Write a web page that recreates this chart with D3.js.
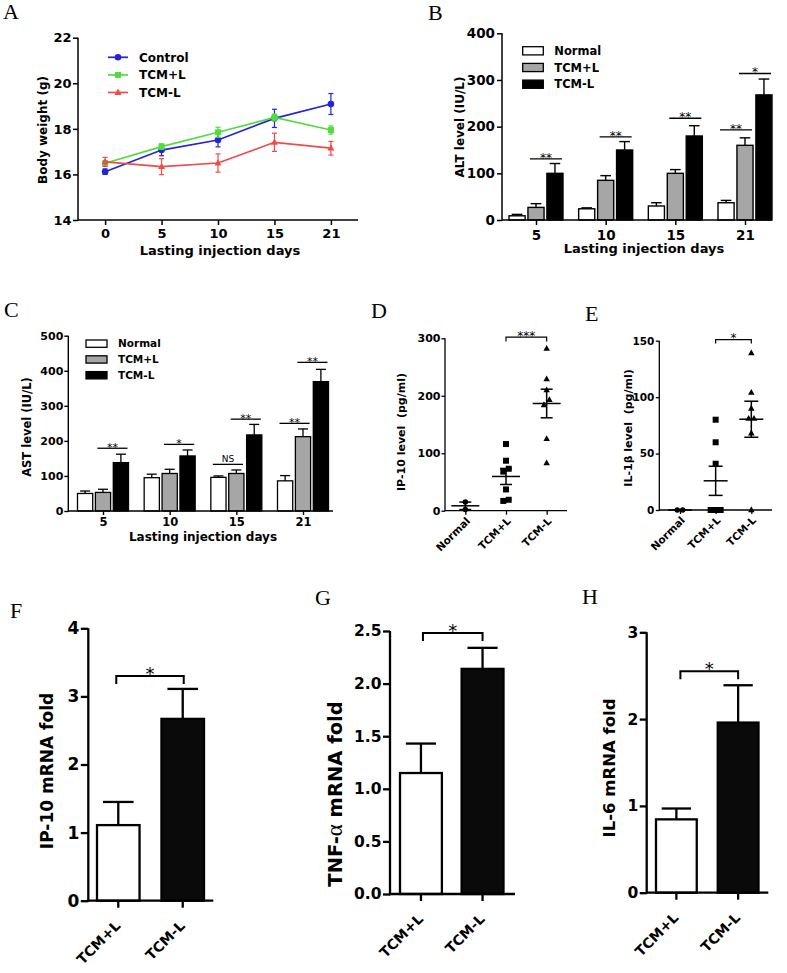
<!DOCTYPE html>
<html>
<head>
<meta charset="utf-8">
<script src="https://cdn.jsdelivr.net/npm/d3@7"></script>
<style>
  body { margin: 0; background: #fff; }
  svg { display: block; }
</style>
</head>
<body>
<svg id="fig" width="787" height="973"></svg>
<script>
// ---- A: body weight ----
const daysA = ['0', '5', '10', '15', '21'];
const weightTicks = [14, 16, 18, 20, 22];
const weightControl = [16.12, 17.07, 17.51, 18.46, 19.09];
const weightControlErr = [0.12, 0.25, 0.3, 0.4, 0.46];
const weightTcmPlus = [16.49, 17.22, 17.85, 18.5, 17.95];
const weightTcmPlusErr = [0.12, 0.12, 0.22, 0.15, 0.18];
const weightTcmMinus = [16.55, 16.34, 16.5, 17.41, 17.15];
const weightTcmMinusErr = [0.2, 0.35, 0.4, 0.4, 0.3];
const namesA = ['Control', 'TCM+L', 'TCM-L'];

// ---- B / C: ALT and AST ----
const daysB = ['5', '10', '15', '21'];
const groupNames = ['Normal', 'TCM+L', 'TCM-L'];
const altTicks = [0, 100, 200, 300, 400];
const altNormal = [9, 24, 30, 37];
const altNormalErr = [3, 2, 7, 5];
const altTcmPlus = [27, 85, 100, 160];
const altTcmPlusErr = [8, 10, 8, 16];
const altTcmMinus = [100, 150, 180, 268];
const altTcmMinusErr = [21, 18, 22, 34];
// [day, from bar, to bar, height, label]
const altSig = [['5', 1, 2, 131, '**'], ['10', 1, 2, 178, '**'], ['15', 1, 2, 218, '**'], ['21', 0, 1, 193, '**'], ['21', 1, 2, 314, '*']];

const astTicks = [0, 100, 200, 300, 400, 500];
const astNormal = [50, 95, 96, 86];
const astNormalErr = [7, 10, 4, 15];
const astTcmPlus = [53, 107, 107, 212];
const astTcmPlusErr = [9, 12, 10, 22];
const astTcmMinus = [138, 157, 217, 369];
const astTcmMinusErr = [24, 17, 30, 35];
const astSig = [['5', 1, 2, 179, '**'], ['10', 1, 2, 190, '*'], ['15', 0, 1, 133, 'NS'], ['15', 1, 2, 262, '**'], ['21', 0, 1, 250, '**'], ['21', 1, 2, 424, '**']];

// ---- D / E: serum cytokines, single animals ----
const dotCats = ['Normal', 'TCM+L', 'TCM-L'];
const ip10Ticks = [0, 100, 200, 300];
const ip10Normal = [2, 15];
const ip10TcmPlus = [116, 87, 73, 68, 37, 17, 19];
const ip10TcmMinus = [282, 229, 210, 193, 184, 125, 83];
const ip10Sig = [302, '***'];
const il1bTicks = [0, 50, 100, 150];
const il1bNormal = [0, 0];
const il1bTcmPlus = [80, 60, 41, 0, 0, 0, 0];
const il1bTcmMinus = [139, 104, 90, 81, 81, 68, 0];
const il1bSig = [151, '*'];

// ---- F / G / H: mRNA fold ----
const foldCats = ['TCM+L', 'TCM-L'];
const ip10Fold = [1.11, 2.67];
const ip10FoldErr = [0.34, 0.44];
const ip10FoldTicks = [0, 1, 2, 3, 4];
const tnfFold = [1.15, 2.14];
const tnfFoldErr = [0.28, 0.2];
const tnfFoldTicks = [0, 0.5, 1, 1.5, 2, 2.5];
const il6Fold = [0.845, 1.96];
const il6FoldErr = [0.125, 0.43];
const il6FoldTicks = [0, 1, 2, 3];

const SANS = '"DejaVu Sans", Verdana, sans-serif';
const SERIF = '"Liberation Serif", "Times New Roman", serif';
const svg = d3.select('#fig');

function drawTxt(g, x, y, txt, size, anchor = 'start', weight = 'bold', family = SANS, fill = '#000') {
  return g.append('text')
    .attr('x', x)
    .attr('y', y)
    .attr('font-size', size)
    .attr('font-family', family)
    .attr('font-weight', weight)
    .attr('fill', fill)
    .attr('text-anchor', anchor)
    .style('white-space', 'pre')
    .text(txt);
}

// rotated axis title, x = baseline
function drawVTxt(g, x, y, txt, size) {
  return drawTxt(g, 0, 0, txt, size, 'middle')
    .attr('transform', `translate(${x},${y}) rotate(-90)`);
}

function drawLine(g, x1, y1, x2, y2, width = 1.5, stroke = '#000') {
  return g.append('line')
    .attr('x1', x1).attr('y1', y1)
    .attr('x2', x2).attr('y2', y2)
    .attr('stroke', stroke)
    .attr('stroke-width', width);
}

function drawMarker(g, shape, x, y, s, fill) {
  if (shape === 'circle') {
    return g.append('circle').attr('cx', x).attr('cy', y).attr('r', s / 2).attr('fill', fill);
  }
  if (shape === 'square') {
    return g.append('rect').attr('x', x - s / 2).attr('y', y - s / 2).attr('width', s).attr('height', s).attr('fill', fill);
  }
  let h = s * 0.9;
  return g.append('path')
    .attr('d', `M${x},${y - h * 0.62}L${x + s / 2},${y + h * 0.38}L${x - s / 2},${y + h * 0.38}Z`)
    .attr('fill', fill);
}

function styleAxis(a, o) {
  a.select('.domain').remove();
  a.selectAll('.tick line').attr('stroke-width', o.w).attr('stroke', '#000');
  a.selectAll('.tick text')
    .attr('font-size', o.size)
    .attr('font-family', SANS)
    .attr('font-weight', 'bold')
    .attr('fill', '#000');
}

function axisLeftAt(g, scale, x, ticks, o) {
  let a = g.append('g')
    .attr('transform', `translate(${x},0)`)
    .call(d3.axisLeft(scale).tickValues(ticks).tickSize(o.tick).tickPadding(o.pad).tickFormat(o.fmt || (d => d)));
  styleAxis(a, o);
  let r = scale.range();
  drawLine(g, x, r[0] + o.w / 2, x, r[1], o.w);
  return a;
}

function axisBottomAt(g, scale, y, x0, x1, o) {
  let a = g.append('g')
    .attr('transform', `translate(0,${y})`)
    .call(d3.axisBottom(scale).tickSize(o.tick).tickPadding(o.pad));
  styleAxis(a, o);
  drawLine(g, x0, y, x1, y, o.w);
  if (o.rot) {
    a.selectAll('.tick text')
      .attr('x', 0).attr('y', 0).attr('dy', 0)
      .attr('text-anchor', 'end')
      .attr('transform', `translate(${o.rot[0]},${o.rot[1]}) rotate(-45)`);
  }
  return a;
}

function drawBracket(g, x1, x2, y, tick, width, label, size, lift) {
  g.append('path')
    .attr('d', `M${x1},${y + tick}V${y}H${x2}V${y + tick}`)
    .attr('fill', 'none')
    .attr('stroke', '#000')
    .attr('stroke-width', width);
  drawTxt(g, (x1 + x2) / 2, y + lift, label, size, 'middle', 'normal');
}

// grouped bar chart with significance lines (B, C)
function groupedBars(g, x, inner, y, series, errs, sig, o) {
  let bw = inner.bandwidth();
  series.forEach((vals, si) => {
    g.selectAll(null).data(vals).enter().append('rect')
      .attr('x', (d, i) => x(daysB[i]) + inner(si))
      .attr('y', d => y(d))
      .attr('width', bw)
      .attr('height', d => y(0) - y(d))
      .attr('fill', o.fills[si])
      .attr('stroke', '#000')
      .attr('stroke-width', o.w);
    vals.forEach((v, i) => {
      let cx = x(daysB[i]) + inner(si) + bw / 2;
      let top = y(v + errs[si][i]);
      drawLine(g, cx, y(v), cx, top, o.w);
      drawLine(g, cx - bw * 0.33, top, cx + bw * 0.33, top, o.w);
    });
  });
  sig.forEach(s => {
    let x1 = x(s[0]) + inner(s[1]) + 2;
    let x2 = x(s[0]) + inner(s[2]) + bw - 1;
    drawLine(g, x1, y(s[3]), x2, y(s[3]), o.w);
    if (s[4] === 'NS') drawTxt(g, (x1 + x2) / 2, y(s[3]) - 2.5, s[4], o.nsSize, 'middle', 'normal');
    else drawTxt(g, (x1 + x2) / 2, y(s[3]) + 3, s[4], o.starSize, 'middle', 'normal');
  });
}

function barLegend(g, x, y0, step, w, h, size, fills) {
  groupNames.forEach((n, i) => {
    g.append('rect')
      .attr('x', x).attr('y', y0 + i * step)
      .attr('width', w).attr('height', h)
      .attr('fill', fills[i]).attr('stroke', '#000').attr('stroke-width', 1.3);
    drawTxt(g, x + w + 11, y0 + i * step + h / 2, n, size).attr('dy', '0.36em');
  });
}

// spread overlapping points sideways
function spread(vals, y, size) {
  let idx = vals.map((v, i) => i).sort((a, b) => vals[a] - vals[b]);
  let offs = vals.map(() => 0);
  let cluster = [idx[0]];
  const flush = () => {
    let n = cluster.length;
    let step = n > 1 ? Math.min(size * 0.9, 10 / (n - 1)) : 0;
    cluster.forEach((k, j) => { offs[k] = (j - (n - 1) / 2) * step; });
  };
  for (let i = 1; i < idx.length; i++) {
    let last = cluster[cluster.length - 1];
    if (Math.abs(y(vals[idx[i]]) - y(vals[last])) < size) cluster.push(idx[i]);
    else { flush(); cluster = [idx[i]]; }
  }
  flush();
  return offs;
}

function dotPlot(g, x, y, groups, o) {
  const shapes = ['circle', 'square', 'triangle'];
  const sizes = [5.5, 6, 6.5];
  groups.forEach((vals, gi) => {
    let cx = x(dotCats[gi]);
    let offs = spread(vals, y, 6);
    vals.forEach((v, i) => drawMarker(g, shapes[gi], cx + offs[i], y(v), sizes[gi], '#000'));
    let m = d3.mean(vals);
    let sem = d3.deviation(vals) / Math.sqrt(vals.length);
    drawLine(g, cx - o.meanHalf, y(m), cx + o.meanHalf, y(m), 1.5);
    drawLine(g, cx, y(m - sem), cx, y(m + sem), 1.5);
    drawLine(g, cx - o.capHalf, y(m - sem), cx + o.capHalf, y(m - sem), 1.5);
    drawLine(g, cx - o.capHalf, y(m + sem), cx + o.capHalf, y(m + sem), 1.5);
  });
}

function foldBars(g, x, y, vals, errs) {
  let bw = x.bandwidth();
  g.selectAll(null).data(vals).enter().append('rect')
    .attr('x', (d, i) => x(foldCats[i]))
    .attr('y', d => y(d))
    .attr('width', bw)
    .attr('height', d => y(0) - y(d))
    .attr('fill', (d, i) => i === 0 ? '#fff' : '#0a0a0a')
    .attr('stroke', '#000')
    .attr('stroke-width', 2.3);
  vals.forEach((v, i) => {
    let cx = x(foldCats[i]) + bw / 2;
    let top = y(v + errs[i]);
    drawLine(g, cx, y(v), cx, top, 2.3);
    drawLine(g, cx - bw * 0.36, top, cx + bw * 0.36, top, 2.3);
  });
}

// ---------- panel letters ----------
[['A', 3, 19], ['B', 428, 20], ['C', 4, 317], ['D', 371, 318], ['E', 585, 321], ['F', 10, 618], ['G', 315, 605], ['H', 582, 604]]
  .forEach(l => drawTxt(svg, l[1], l[2], l[0], 22, 'start', 'normal', SERIF));

// ---------- A ----------
const gA = svg.append('g');
const xA = d3.scalePoint().domain(daysA).range([78, 358]).padding(0.48);
const yA = d3.scaleLinear().domain([14, 22]).range([220, 37.7]);
axisLeftAt(gA, yA, 78, weightTicks, { tick: 5, pad: 1.5, size: 13, w: 1.5 });
axisBottomAt(gA, xA, 220, 78, 358, { tick: 5, pad: 4, size: 13, w: 1.5 });
drawVTxt(gA, 47, 130, 'Body weight (g)', 12);
drawTxt(gA, 220, 255, 'Lasting injection days', 13, 'middle');

const colorsA = ['#2323d8', '#52dc3c', '#ef4b4b'];
const shapesA = ['circle', 'square', 'triangle'];
const sizesA = [6.6, 6, 7];
const seriesA = [[weightControl, weightControlErr], [weightTcmPlus, weightTcmPlusErr], [weightTcmMinus, weightTcmMinusErr]];
const lineA = d3.line().x((d, i) => xA(daysA[i])).y(d => yA(d));
seriesA.forEach((s, si) => {
  gA.append('path').attr('d', lineA(s[0])).attr('fill', 'none').attr('stroke', colorsA[si]).attr('stroke-width', 1.7);
  s[0].forEach((v, i) => {
    let cx = xA(daysA[i]);
    let e = s[1][i];
    drawLine(gA, cx, yA(v - e), cx, yA(v + e), 1.2, colorsA[si]);
    drawLine(gA, cx - 2.5, yA(v + e), cx + 2.5, yA(v + e), 1.2, colorsA[si]);
    drawLine(gA, cx - 2.5, yA(v - e), cx + 2.5, yA(v - e), 1.2, colorsA[si]);
    drawMarker(gA, shapesA[si], cx, yA(v), sizesA[si], colorsA[si]);
  });
});
namesA.forEach((n, i) => {
  let ly = 57.3 + i * 17.6;
  drawLine(gA, 108, ly, 128, ly, 1.7, colorsA[i]);
  drawMarker(gA, shapesA[i], 118, ly, sizesA[i], colorsA[i]);
  drawTxt(gA, 139, ly, n, 12).attr('dy', '0.36em');
});

// ---------- B ----------
const barFills = ['#ffffff', '#a6a6a6', '#000000'];
const gB = svg.append('g');
const xB = d3.scalePoint().domain(daysB).range([536, 745]);
const innerB = d3.scaleBand().domain([0, 1, 2]).range([-27, 27]).paddingInner(0.15);
const yB = d3.scaleLinear().domain([0, 400]).range([220, 33.3]);
groupedBars(gB, xB, innerB, yB, [altNormal, altTcmPlus, altTcmMinus], [altNormalErr, altTcmPlusErr, altTcmMinusErr], altSig,
  { fills: barFills, w: 1.4, starSize: 12, nsSize: 9 });
axisLeftAt(gB, yB, 502, altTicks, { tick: 5, pad: 2, size: 13.5, w: 1.5 });
axisBottomAt(gB, xB, 220, 502, 772, { tick: 5, pad: 5, size: 13.5, w: 1.5 });
drawVTxt(gB, 464, 127, 'ALT level (IU/L)', 12);
drawTxt(gB, 644, 253, 'Lasting injection days', 13, 'middle');
barLegend(gB, 522.7, 46.7, 16.7, 20.6, 8.2, 11.5, barFills);

// ---------- C ----------
const gC = svg.append('g');
const xC = d3.scalePoint().domain(daysB).range([103, 303]);
const innerC = d3.scaleBand().domain([0, 1, 2]).range([-25.5, 25.5]).paddingInner(0.15);
const yC = d3.scaleLinear().domain([0, 500]).range([511, 335.7]);
groupedBars(gC, xC, innerC, yC, [astNormal, astTcmPlus, astTcmMinus], [astNormalErr, astTcmPlusErr, astTcmMinusErr], astSig,
  { fills: barFills, w: 1.3, starSize: 11, nsSize: 9 });
axisLeftAt(gC, yC, 68.3, astTicks, { tick: 4, pad: 1, size: 11, w: 1.4 });
axisBottomAt(gC, xC, 511, 68.3, 333, { tick: 4, pad: 3, size: 11.5, w: 1.4 });
drawVTxt(gC, 31, 427, 'AST level (IU/L)', 11.5);
drawTxt(gC, 203, 541, 'Lasting injection days', 12, 'middle');
barLegend(gC, 86, 340, 15.8, 21, 7.3, 10.5, barFills);

// ---------- D ----------
const gD = svg.append('g');
const xD = d3.scalePoint().domain(dotCats).range([445, 567]).padding(0.5);
const yD = d3.scaleLinear().domain([0, 300]).range([510.7, 338.3]);
dotPlot(gD, xD, yD, [ip10Normal, ip10TcmPlus, ip10TcmMinus], { meanHalf: 14, capHalf: 6 });
axisLeftAt(gD, yD, 445, ip10Ticks, { tick: 3.5, pad: 1, size: 11, w: 1.3 });
axisBottomAt(gD, xD, 510.7, 445, 567, { tick: 4, pad: 2, size: 10.5, w: 1.3, rot: [5, 11] });
drawVTxt(gD, 405, 432, 'IP-10 level  (pg/ml)', 11);
drawBracket(gD, xD('TCM+L'), xD('TCM-L'), yD(ip10Sig[0]), 4.4, 1.2, ip10Sig[1], 12, 2.5);

// ---------- E ----------
const gE = svg.append('g');
const xE = d3.scalePoint().domain(dotCats).range([659.3, 772]).padding(0.58);
const yE = d3.scaleLinear().domain([0, 150]).range([510, 340.7]);
dotPlot(gE, xE, yE, [il1bNormal, il1bTcmPlus, il1bTcmMinus], { meanHalf: 12, capHalf: 7 });
axisLeftAt(gE, yE, 659.3, il1bTicks, { tick: 3.5, pad: 1.5, size: 10.5, w: 1.3 });
axisBottomAt(gE, xE, 510, 659.3, 772, { tick: 4, pad: 2, size: 10.5, w: 1.3, rot: [5, 11] });
drawVTxt(gE, 632, 428, 'IL-1\u03b2 level  (pg/ml)', 11);
drawBracket(gE, xE('TCM+L'), xE('TCM-L'), yE(il1bSig[0]), 4, 1.2, il1bSig[1], 12, 2.5);

// ---------- F ----------
const gF = svg.append('g');
const xF = d3.scaleBand().domain(foldCats).range([97, 204]).paddingInner(0.34);
const yF = d3.scaleLinear().domain([0, 4]).range([900.7, 628.3]);
foldBars(gF, xF, yF, ip10Fold, ip10FoldErr);
axisLeftAt(gF, yF, 88.3, ip10FoldTicks, { tick: 7.5, pad: 1.5, size: 17, w: 2.3 });
axisBottomAt(gF, xF, 900.7, 88.3, 213.3, { tick: 7, pad: 2, size: 14, w: 2.3, rot: [3, 26] });
drawVTxt(gF, 53, 771, 'IP-10 mRNA fold', 17);
drawBracket(gF, xF('TCM+L') + xF.bandwidth() / 2 - 2, xF('TCM-L') + xF.bandwidth() / 2 + 1, yF(3.3), 8, 2, '*', 18, 4);

// ---------- G ----------
const gG = svg.append('g');
const xG = d3.scaleBand().domain(foldCats).range([400, 503.5]).paddingInner(0.32);
const yG = d3.scaleLinear().domain([0, 2.5]).range([894, 631]);
foldBars(gG, xG, yG, tnfFold, tnfFoldErr);
axisLeftAt(gG, yG, 390, tnfFoldTicks, { tick: 7, pad: 1.5, size: 15.5, w: 2.3, fmt: d3.format('.1f') });
axisBottomAt(gG, xG, 894, 390, 515, { tick: 7, pad: 2, size: 14, w: 2.3, rot: [3, 26] });
const tG = drawVTxt(gG, 342, 794, '', 19.5);
tG.append('tspan').text('TNF-');
tG.append('tspan').attr('font-family', SERIF).attr('font-weight', 'normal').attr('font-size', 23).text('\u03b1');
tG.append('tspan').text(' mRNA fold');
drawBracket(gG, xG('TCM+L') + xG.bandwidth() / 2 + 2, xG('TCM-L') + xG.bandwidth() / 2, yG(2.48), 8, 2, '*', 18, 4);

// ---------- H ----------
const gH = svg.append('g');
const xH = d3.scaleBand().domain(foldCats).range([656, 758.5]).paddingInner(0.34);
const yH = d3.scaleLinear().domain([0, 3]).range([892.7, 632.3]);
foldBars(gH, xH, yH, il6Fold, il6FoldErr);
axisLeftAt(gH, yH, 646.7, il6FoldTicks, { tick: 7, pad: 1.5, size: 15.5, w: 2.3 });
axisBottomAt(gH, xH, 892.7, 646.7, 768.3, { tick: 7, pad: 2, size: 14, w: 2.3, rot: [3, 26] });
drawVTxt(gH, 615, 768, 'IL-6 mRNA fold', 16.5);
drawBracket(gH, xH('TCM+L') + xH.bandwidth() / 2 + 4, xH('TCM-L') + xH.bandwidth() / 2, yH(2.55), 8, 2, '*', 18, 4);
</script>
</body>
</html>
